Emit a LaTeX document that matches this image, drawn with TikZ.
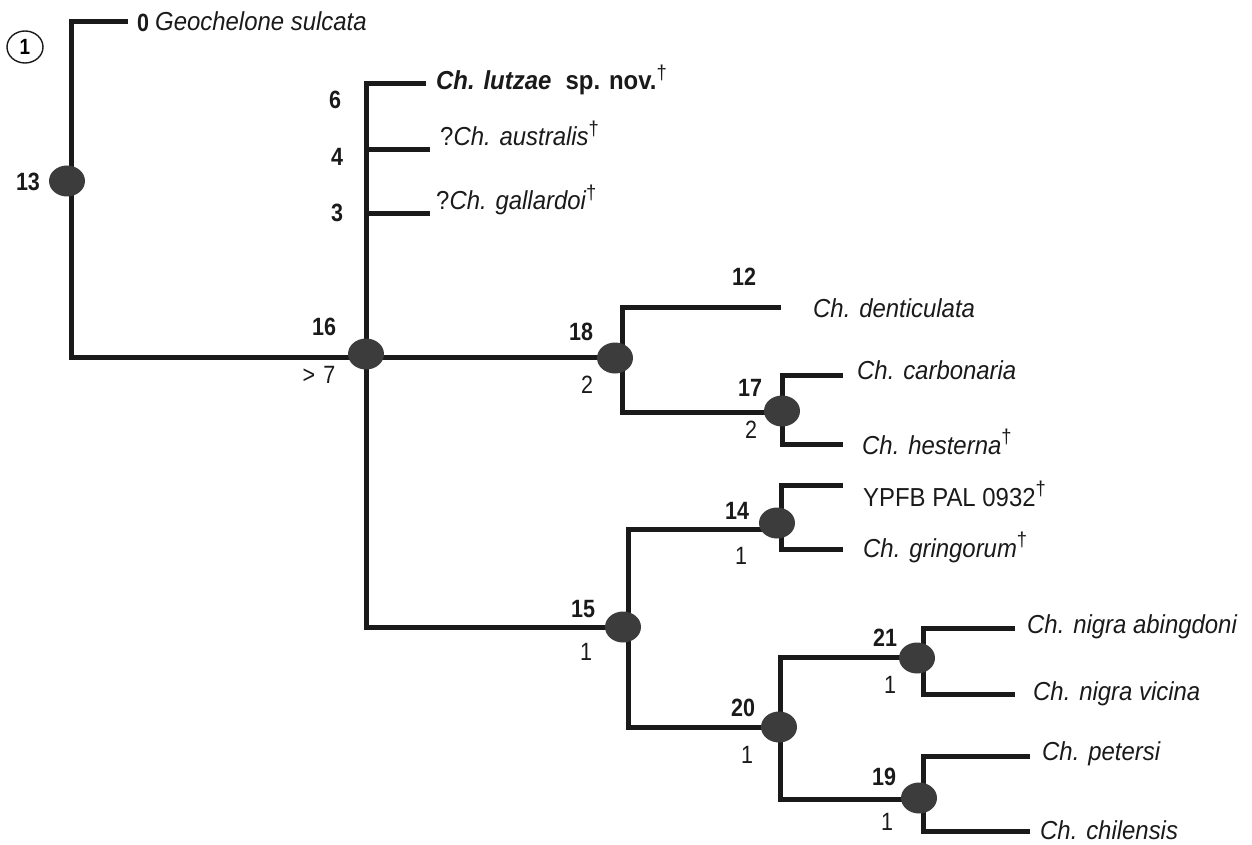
\documentclass[tikz,border=0pt]{standalone}
\usepackage{fontspec}
\setmainfont{Liberation Sans}[FakeStretch=0.92]
\newfontfamily\numfont{Liberation Sans}[FakeStretch=0.86]
\usetikzlibrary{shapes.geometric}
\definecolor{dotgray}{HTML}{3C3C3C}
\definecolor{inkc}{HTML}{1A1A1A}
\newcommand\dg{\raisebox{0.42em}{\fontsize{20}{20}\selectfont\upshape\mdseries †}}
\begin{document}
\begin{tikzpicture}[x=1pt,y=-1pt,
  branch/.style={line width=5pt, draw=inkc, line join=miter},
  dot/.style={ellipse, fill=dotgray, minimum width=36pt, minimum height=31pt, inner sep=0pt},
  taxon/.style={anchor=base west, inner sep=0pt, text=inkc, font=\fontsize{26}{28}\selectfont\itshape},
  bnum/.style={inner sep=0pt, text=inkc, font=\numfont\bfseries\fontsize{25}{25}\selectfont},
  rnum/.style={inner sep=0pt, text=inkc, font=\numfont\fontsize{25}{25}\selectfont}]
\useasboundingbox (0,0) rectangle (1252,845);

% junctions and leaf ends
\coordinate (g0) at (128,22);
\coordinate (r) at (71,22);
\coordinate (j16) at (366,357);
\coordinate (lu) at (426,84);
\coordinate (a4s) at (366,150);
\coordinate (a4) at (430,150);
\coordinate (g3s) at (366,213);
\coordinate (g3) at (430,213);
\coordinate (j18) at (622,357);
\coordinate (de) at (781,307);
\coordinate (j17) at (782,412);
\coordinate (ca) at (843,375);
\coordinate (he) at (843,444);
\coordinate (j15) at (628,627);
\coordinate (j14) at (781,529);
\coordinate (yp) at (843,485);
\coordinate (gr) at (843,549);
\coordinate (j20) at (780,727);
\coordinate (j21) at (923,657);
\coordinate (ab) at (1015,628);
\coordinate (vi) at (1015,694);
\coordinate (j19) at (923,799);
\coordinate (pe) at (1030,756);
\coordinate (ch) at (1030,831);

% branches
\draw[branch] (g0) -- (r) |- (j16);
\draw[branch] (lu) -| (j16) |- (j15);
\draw[branch] (a4s) -- (a4);
\draw[branch] (g3s) -- (g3);
\draw[branch] (j16) -- (j18);
\draw[branch] (de) -| (j18) |- (j17);
\draw[branch] (ca) -| (j17) |- (he);
\draw[branch] (j14) -| (j15) |- (j20);
\draw[branch] (yp) -| (j14) |- (gr);
\draw[branch] (j21) -| (j20) |- (j19);
\draw[branch] (ab) -| (j21) |- (vi);
\draw[branch] (pe) -| (j19) |- (ch);

% node dots
\node[dot] (e13) at (67,181) {};
\node[dot] (e16) at (366,354) {};
\node[dot] (e18) at (615,358) {};
\node[dot] (e17) at (782,411) {};
\node[dot] (e14) at (777,523) {};
\node[dot] (e15) at (623,627) {};
\node[dot] (e20) at (779,727) {};
\node[dot] (e21) at (917,658) {};
\node[dot] (e19) at (919,798) {};

% circled 1
\node[ellipse, draw=inkc, line width=1.4pt, minimum width=36pt, minimum height=32pt, inner sep=0pt,
      font=\numfont\bfseries\fontsize{22}{22}\selectfont] (c1) at (25,47) {1};

% taxa
\node[taxon] (t0) at (155,31) {Geochelone sulcata};
\node[taxon, font=\fontsize{26}{28}\selectfont\bfseries] (tlu) at (436,90) {\textit{Ch. lutzae}\hspace{0.55em}sp. nov.\dg};
\node[taxon] (tau) at (440,146) {\upshape ?\itshape Ch. australis\dg};
\node[taxon] (tga) at (436,210) {\upshape ?\itshape Ch. gallardoi\dg};
\node[taxon] (tde) at (813,317) {Ch. denticulata};
\node[taxon] (tca) at (857,379) {Ch. carbonaria};
\node[taxon] (the) at (862,454) {Ch. hesterna\dg};
\node[taxon, font=\fontsize{26}{28}\selectfont] (typ) at (863,506) {YPFB PAL 0932\dg};
\node[taxon] (tgr) at (863,557) {Ch. gringorum\dg};
\node[taxon] (tab) at (1027,633) {Ch. nigra abingdoni};
\node[taxon] (tvi) at (1033,700) {Ch. nigra vicina};
\node[taxon] (tpe) at (1042,760) {Ch. petersi};
\node[taxon] (tch) at (1040,839) {Ch. chilensis};

% bold numbers
\node[bnum] (n0) at (143,23) {0};
\node[bnum] (n13) at (28,182) {13};
\node[bnum] (n6) at (335,100) {6};
\node[bnum] (n4) at (337,157) {4};
\node[bnum] (n3) at (337,213) {3};
\node[bnum] (n16) at (324,327) {16};
\node[bnum] (n12) at (744,277) {12};
\node[bnum] (n18) at (581,332) {18};
\node[bnum] (n17) at (750,388) {17};
\node[bnum] (n14) at (737,511) {14};
\node[bnum] (n15) at (583,609) {15};
\node[bnum] (n20) at (743,708) {20};
\node[bnum] (n21) at (885,638) {21};
\node[bnum] (n19) at (884,777) {19};

% support values
\node[rnum] (s16) at (319,375) {>\hspace{0.32em}7};
\node[rnum] (s18) at (587,385) {2};
\node[rnum] (s17) at (751,430) {2};
\node[rnum] (s14) at (741,556) {1};
\node[rnum] (s15) at (586,652) {1};
\node[rnum] (s20) at (747,755) {1};
\node[rnum] (s21) at (890,685) {1};
\node[rnum] (s19) at (887,822) {1};
\end{tikzpicture}
\end{document}
